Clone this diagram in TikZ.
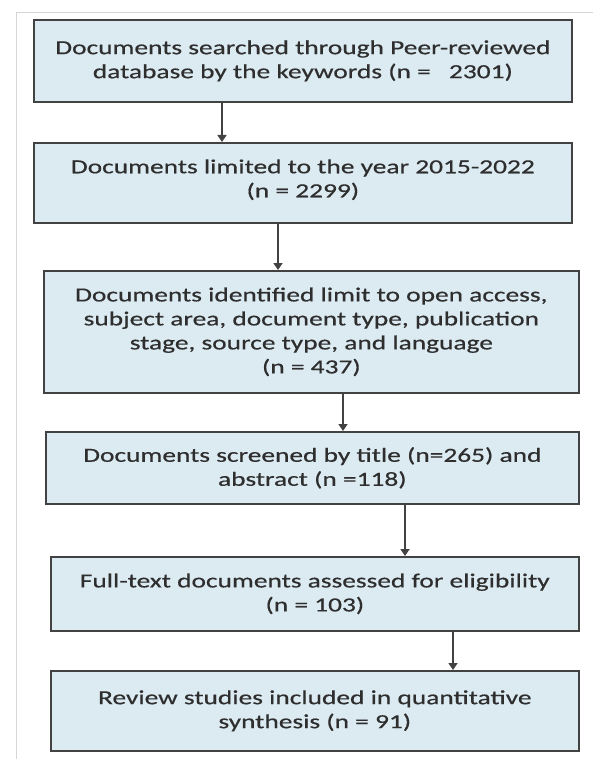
\documentclass[tikz,border=0pt]{standalone}
\usepackage{fontspec}
\setmainfont[FakeStretch=1.37,FakeBold=0.5]{Carlito}
\usetikzlibrary{arrows.meta}
\definecolor{boxfill}{HTML}{DCEBF2}
\definecolor{boxline}{HTML}{424242}
\definecolor{txt}{HTML}{2E2E2E}
\definecolor{framec}{HTML}{D6D6D6}
\begin{document}
\begin{tikzpicture}[x=1pt,y=-1pt,
  box/.style={draw=boxline, fill=boxfill, line width=1.7pt, anchor=north west,
    align=center, text=txt, font=\fontsize{20}{24}\selectfont, inner sep=0pt},
  arr/.style={draw=boxline, line width=1.7pt, -{Triangle[width=9pt,length=7pt]}}]
\useasboundingbox[fill=white] (0,0) rectangle (593,759);
\draw[framec, line width=1.5pt] (16.5,759) -- (16.5,12.5) -- (593,12.5);
\node[box, minimum width=538pt, minimum height=82pt] (b1) at (33,19)
  {Documents searched through Peer-reviewed\\database by the keywords (n = \hspace{0.6em}2301)};
\node[box, minimum width=538pt, minimum height=80pt] (b2) at (33,142)
  {Documents limited to the year 2015-2022\\(n = 2299)\rule[-9pt]{0pt}{1pt}};
\node[box, minimum width=535pt, minimum height=122pt] (b3) at (43,270)
  {Documents identified limit to open access,\\subject area, document type, publication\\stage, source type, and language\\(n = 437)};
\node[box, minimum width=533pt, minimum height=72pt] (b4) at (45,431)
  {Documents screened by title (n=265) and\\abstract (n =118)};
\node[box, minimum width=528pt, minimum height=74pt] (b5) at (50,556)
  {Full-text documents assessed for eligibility\\(n = 103)};
\node[box, minimum width=528pt, minimum height=80pt] (b6) at (50,670)
  {Review studies included in quantitative\\synthesis (n = 91)};
\coordinate (a1) at (222,0);
\coordinate (a2) at (278,0);
\coordinate (a3) at (343,0);
\coordinate (a4) at (405,0);
\coordinate (a5) at (453,0);
\draw[arr] (b1.south -| a1) -- (b2.north -| a1);
\draw[arr] (b2.south -| a2) -- (b3.north -| a2);
\draw[arr] (b3.south -| a3) -- (b4.north -| a3);
\draw[arr] (b4.south -| a4) -- (b5.north -| a4);
\draw[arr] (b5.south -| a5) -- (b6.north -| a5);
\end{tikzpicture}
\end{document}
